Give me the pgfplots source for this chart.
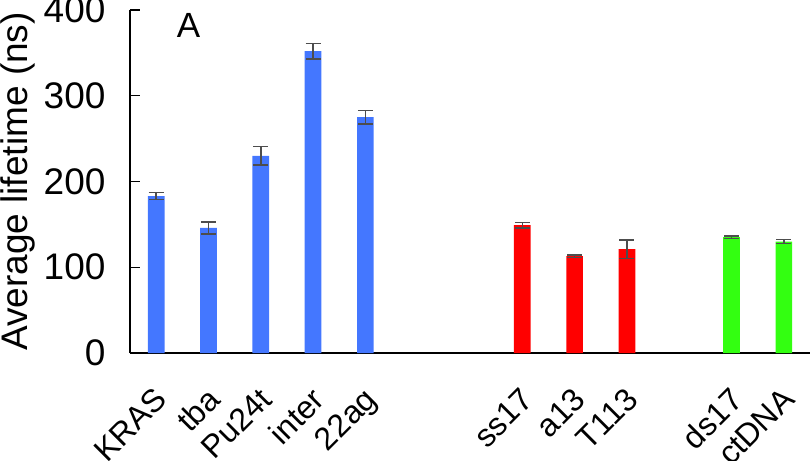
\documentclass[border=0pt]{standalone}
\usepackage{fontspec}
\setmainfont{Liberation Sans}
\usepackage{pgfplots}
\pgfplotsset{compat=1.18}
\usetikzlibrary{calc}
\definecolor{barBlue}{HTML}{4477FF}
\definecolor{barRed}{HTML}{FF0000}
\definecolor{barGreen}{HTML}{33FF11}
\definecolor{errGray}{HTML}{4D4D4D}

\begin{document}
\begin{tikzpicture}
\begin{axis}[
  width=680pt, height=343pt, scale only axis,
  xmin=-0.5, xmax=12.5, ymin=0, ymax=400,
  axis x line=bottom, axis y line=left,
  axis line style={line width=1.5pt, -},
  ytick={0,100,200,300,400},
  major tick length=10pt, tick align=inside,
  ytick style={line width=1.5pt, black},
  xtick={0,1,2,3,4,7,8,9,11,12},
  xticklabels={KRAS,tba,Pu24t,inter,22ag,ss17,a13,T113,ds17,ctDNA},
  x tick style={draw=none},
  xticklabel style={font=\fontsize{32}{38}\selectfont, xshift=-3pt, yshift=-28pt, rotate=45, anchor=north east},
  yticklabel style={font=\fontsize{37}{40}\selectfont, xshift=-21pt},
  label style={font=\fontsize{37}{40}\selectfont},
  /pgf/number format/assume math mode=true,
  ylabel={Average lifetime (ns)},
  ylabel style={at={(axis description cs:-0.191,0.5)}, anchor=north, inner sep=0pt},
  error bars/error bar style={line width=1.5pt, errGray},
  error bars/error mark options={rotate=90, mark size=7.5pt, line width=1.5pt, errGray},
]
\addplot[ybar, bar width=16.7pt, bar shift=0pt, fill=barBlue, draw=none,
  error bars/.cd, y dir=both, y explicit] coordinates {
  (0,183) +- (0,4)
  (1,146) +- (0,7)
  (2,230) +- (0,11)
  (3,352) +- (0,9)
  (4,275) +- (0,8)
};
\addplot[ybar, bar width=16.7pt, bar shift=0pt, fill=barRed, draw=none,
  error bars/.cd, y dir=both, y explicit] coordinates {
  (7,149) +- (0,3)
  (8,113) +- (0,1.5)
  (9,121) +- (0,11)
};
\addplot[ybar, bar width=16.7pt, bar shift=0pt, fill=barGreen, draw=none,
  error bars/.cd, y dir=both, y explicit] coordinates {
  (11,135) +- (0,1.5)
  (12,130) +- (0,2.5)
};
\node[anchor=base, font=\fontsize{35}{40}\selectfont] at (axis cs:0.62,368.5) {A};
\coordinate (O) at (rel axis cs:0,0);
\coordinate (T) at (rel axis cs:1,1);
\end{axis}
\pgfresetboundingbox
\path[use as bounding box] ($(O)+(-130pt,-107pt)$) rectangle ($(T)+(0pt,10pt)$);
\end{tikzpicture}
\end{document}
